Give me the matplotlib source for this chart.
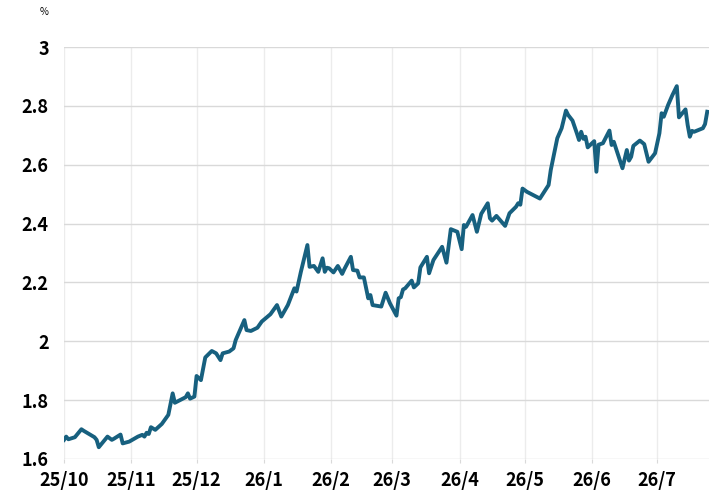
import pandas as pd
import numpy as np
import matplotlib
matplotlib.use("Agg")
import matplotlib.pyplot as plt
import matplotlib.dates as mdates

plt.rcParams['font.family'] = ['Noto Sans CJK JP', 'DejaVu Sans']

# 日付と利回り (%)
dates = [
    '2025-10-01', '2025-10-02', '2025-10-03', '2025-10-06', '2025-10-09', '2025-10-10',
    '2025-10-15', '2025-10-16', '2025-10-17', '2025-10-21', '2025-10-23', '2025-10-24',
    '2025-10-27', '2025-10-28', '2025-10-31',
    '2025-11-04', '2025-11-06', '2025-11-07', '2025-11-08', '2025-11-09', '2025-11-10',
    '2025-11-12', '2025-11-15', '2025-11-18', '2025-11-20', '2025-11-21', '2025-11-26',
    '2025-11-27', '2025-11-28', '2025-11-30',
    '2025-12-01', '2025-12-03', '2025-12-05', '2025-12-08', '2025-12-10', '2025-12-12',
    '2025-12-13', '2025-12-16', '2025-12-18', '2025-12-19', '2025-12-21', '2025-12-23',
    '2025-12-24', '2025-12-26', '2025-12-29', '2025-12-31',
    '2026-01-04', '2026-01-07', '2026-01-09', '2026-01-12', '2026-01-15', '2026-01-16',
    '2026-01-18', '2026-01-21', '2026-01-22', '2026-01-24', '2026-01-26', '2026-01-28',
    '2026-01-29', '2026-01-30', '2026-01-31',
    '2026-02-02', '2026-02-04', '2026-02-06', '2026-02-07', '2026-02-10', '2026-02-11',
    '2026-02-13', '2026-02-14', '2026-02-16', '2026-02-18', '2026-02-19', '2026-02-20',
    '2026-02-24', '2026-02-26', '2026-02-28',
    '2026-03-03', '2026-03-04', '2026-03-05', '2026-03-06', '2026-03-07', '2026-03-10',
    '2026-03-11', '2026-03-13', '2026-03-14', '2026-03-17', '2026-03-18', '2026-03-20',
    '2026-03-24', '2026-03-26', '2026-03-28', '2026-03-31',
    '2026-04-02', '2026-04-03', '2026-04-04', '2026-04-07', '2026-04-09', '2026-04-11',
    '2026-04-14', '2026-04-15', '2026-04-16', '2026-04-18', '2026-04-22', '2026-04-24',
    '2026-04-27', '2026-04-28', '2026-04-29', '2026-04-30',
    '2026-05-02', '2026-05-08', '2026-05-10', '2026-05-12', '2026-05-13', '2026-05-16',
    '2026-05-18', '2026-05-20', '2026-05-21', '2026-05-23', '2026-05-25', '2026-05-26',
    '2026-05-27', '2026-05-28', '2026-05-29', '2026-05-30',
    '2026-06-02', '2026-06-03', '2026-06-04', '2026-06-06', '2026-06-09', '2026-06-10',
    '2026-06-11', '2026-06-15', '2026-06-17', '2026-06-18', '2026-06-19', '2026-06-20',
    '2026-06-23', '2026-06-25', '2026-06-27', '2026-06-30',
    '2026-07-02', '2026-07-03', '2026-07-04', '2026-07-06', '2026-07-08', '2026-07-10',
    '2026-07-11', '2026-07-14', '2026-07-15', '2026-07-16', '2026-07-17', '2026-07-18',
    '2026-07-22', '2026-07-23', '2026-07-24',
]
values = [
    1.665, 1.676, 1.667, 1.674, 1.701, 1.696,
    1.674, 1.665, 1.640, 1.676, 1.665, 1.669,
    1.683, 1.653, 1.659,
    1.676, 1.682, 1.676, 1.689, 1.685, 1.708,
    1.699, 1.719, 1.750, 1.823, 1.791, 1.810,
    1.823, 1.805, 1.812,
    1.882, 1.868, 1.945, 1.967, 1.959, 1.936,
    1.959, 1.965, 1.976, 2.004, 2.038, 2.072,
    2.038, 2.035, 2.046, 2.067,
    2.092, 2.123, 2.084, 2.123, 2.180, 2.169,
    2.236, 2.327, 2.253, 2.256, 2.236, 2.282,
    2.236, 2.250, 2.248,
    2.234, 2.256, 2.229, 2.245, 2.287, 2.242,
    2.240, 2.217, 2.217, 2.146, 2.157, 2.123,
    2.118, 2.165, 2.129,
    2.087, 2.146, 2.150, 2.176, 2.180, 2.206,
    2.183, 2.197, 2.251, 2.287, 2.231, 2.276,
    2.321, 2.267, 2.381, 2.372,
    2.313, 2.395, 2.389, 2.429, 2.372, 2.433,
    2.469, 2.418, 2.410, 2.426, 2.392, 2.435,
    2.457, 2.469, 2.464, 2.519,
    2.508, 2.485, 2.508, 2.531, 2.582, 2.690,
    2.724, 2.784, 2.769, 2.750, 2.707, 2.684,
    2.712, 2.688, 2.695, 2.659,
    2.680, 2.576, 2.668, 2.673, 2.716, 2.667,
    2.678, 2.588, 2.650, 2.614, 2.627, 2.664,
    2.682, 2.670, 2.610, 2.639,
    2.707, 2.775, 2.763, 2.803, 2.837, 2.867,
    2.761, 2.788, 2.735, 2.695, 2.715, 2.712,
    2.724, 2.738, 2.780,
]

month_ticks = ['2025-10-01', '2025-11-01', '2025-12-01', '2026-01-01', '2026-02-01',
               '2026-03-01', '2026-04-01', '2026-05-01', '2026-06-01', '2026-07-01']
month_labels = ['25/10', '25/11', '25/12', '26/1', '26/2', '26/3', '26/4', '26/5', '26/6', '26/7']
y_ticks = [1.6, 1.8, 2.0, 2.2, 2.4, 2.6, 2.8, 3.0]
y_labels = ['1.6', '1.8', '2', '2.2', '2.4', '2.6', '2.8', '3']

df = pd.DataFrame({'date': pd.to_datetime(dates), 'value': values})

fig = plt.figure(figsize=(7.21, 4.99), dpi=100)
ax = fig.add_axes([0.0888, 0.0802, 0.8946, 0.8256])

ax.plot(df['date'], df['value'], color='#17607f', lw=2.8, solid_joinstyle='round', zorder=3)

ax.set_xlim(pd.Timestamp('2025-10-01'), pd.Timestamp('2026-07-24 20:00'))
ax.set_ylim(1.6, 3.0)

ax.set_xticks(pd.to_datetime(month_ticks))
ax.set_xticklabels(month_labels, fontsize=13, fontweight='bold')
ax.set_yticks(y_ticks)
ax.set_yticklabels(y_labels, fontsize=13, fontweight='bold')

ax.grid(axis='y', color='#d9d9d9', lw=1.0, zorder=0)
ax.grid(axis='x', color='#ececec', lw=1.0, zorder=0)
for s in ax.spines.values():
    s.set_visible(False)
ax.tick_params(axis='x', length=3, color='#d9d9d9', pad=6)
ax.tick_params(axis='y', length=0, pad=11)

fig.text(0.061, 0.975, '%', fontsize=7, ha='center', va='center')

fig.savefig('out.png', dpi=100)
